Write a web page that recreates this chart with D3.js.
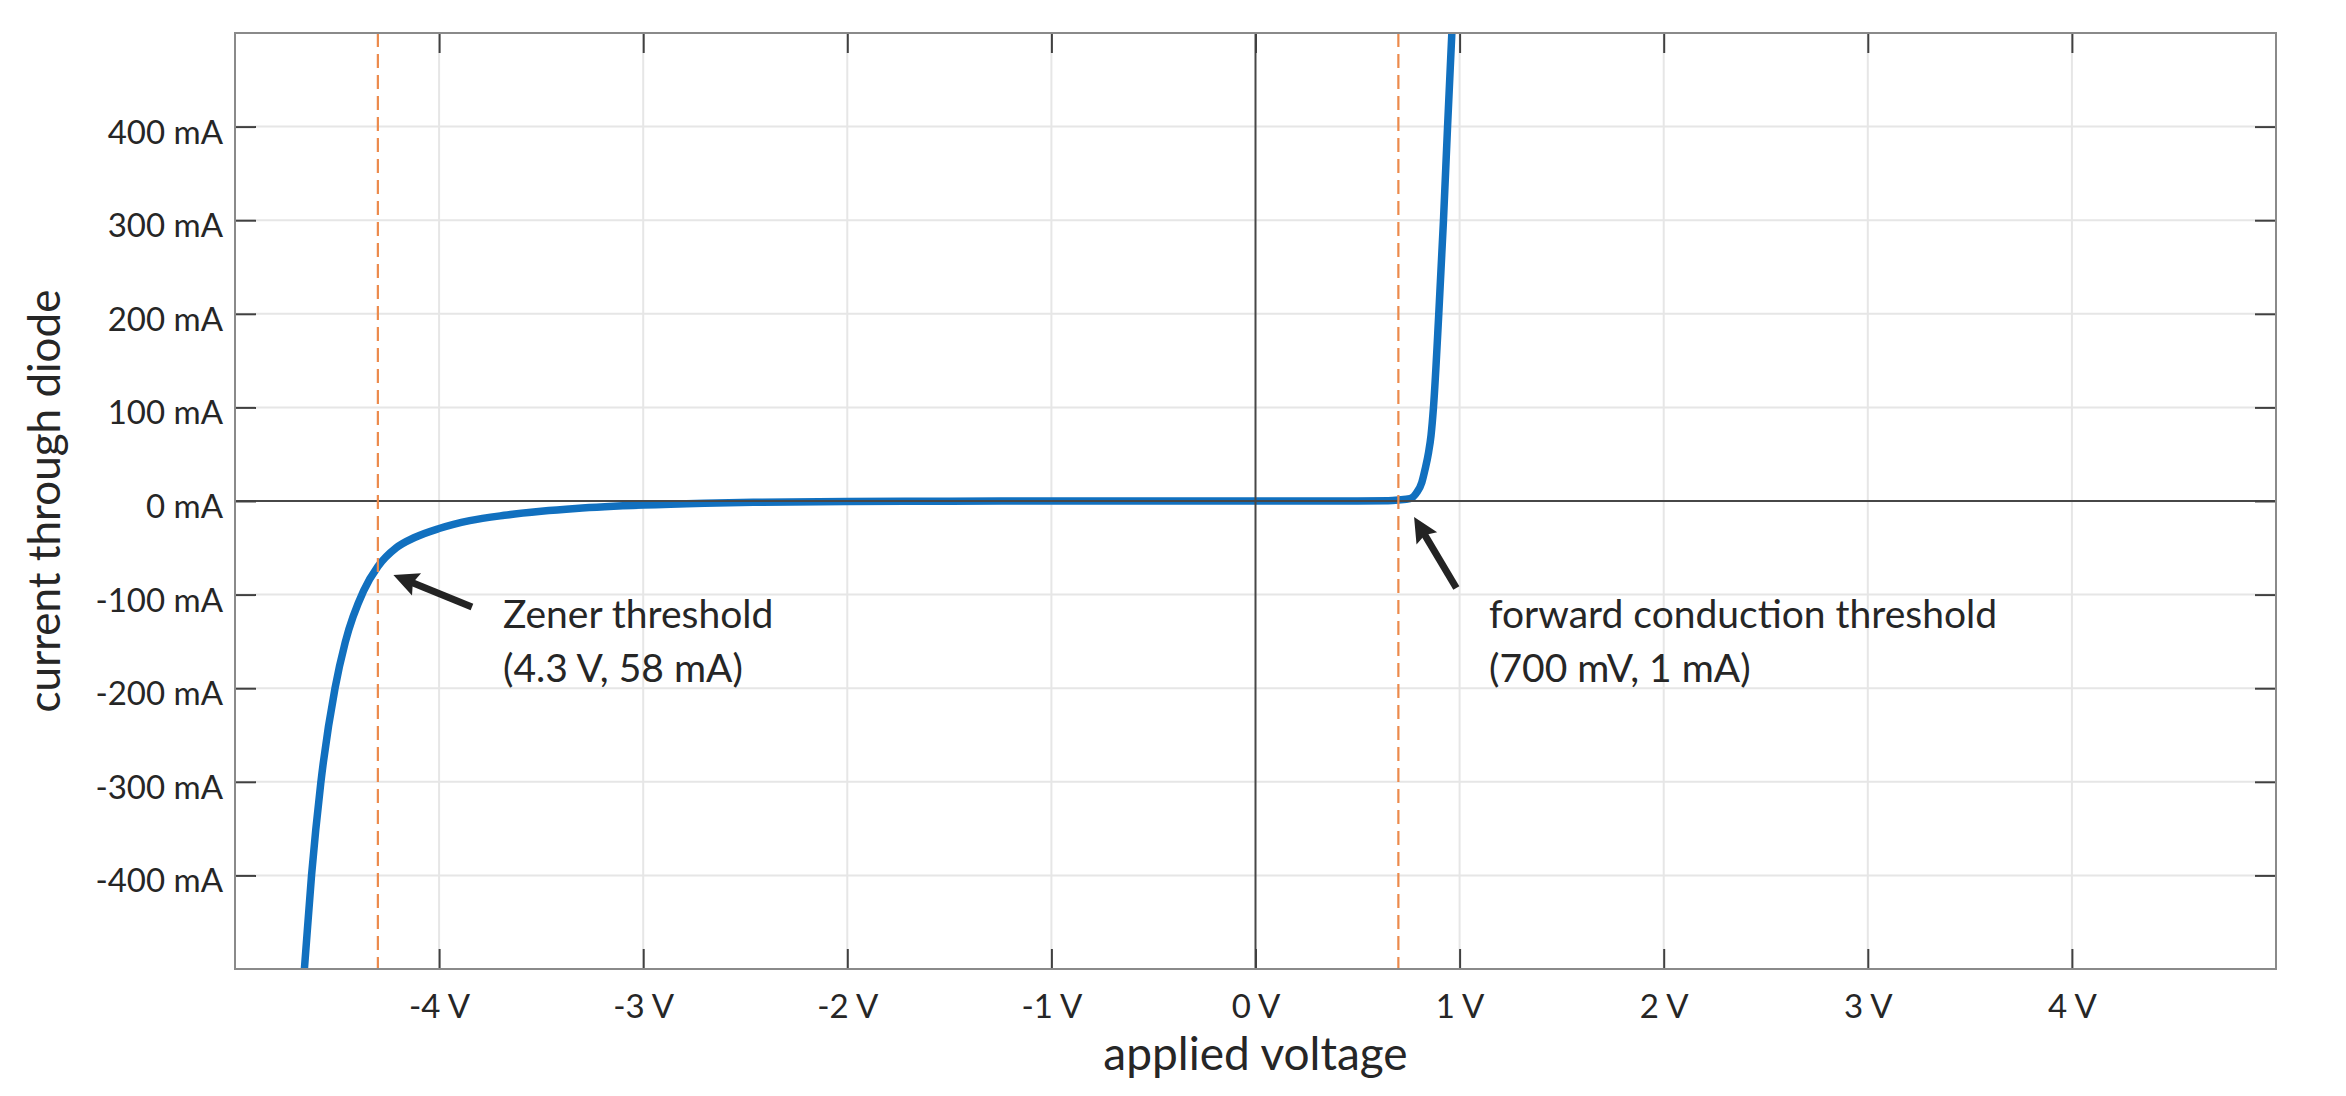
<!DOCTYPE html>
<html>
<head>
<meta charset="utf-8">
<script src="https://cdn.jsdelivr.net/npm/d3@7"></script>
<style>
  body { margin: 0; background: #fff; }
  svg { display: block; }
  text { font-family: Lato, "Noto Sans", sans-serif; fill: #262626; }
</style>
</head>
<body>
<svg id="chart" width="2346" height="1096"></svg>
<script>
// ---- data ----
const voltage = [-4.70, -4.66, -4.625, -4.58, -4.51, -4.46, -4.37, -4.30, -4.21, -4.12, -4.00, -3.85, -3.68, -3.50, -3.33, -3.00, -2.70, -2.46, -2.00, -1.50, -1.00, 0.00, 0.50, 0.65, 0.70, 0.757, 0.79, 0.815, 0.831, 0.848, 0.86, 0.872, 0.898, 0.921, 0.941, 0.962, 0.975];
const current = [-600, -500, -400, -302, -200, -151, -96, -70, -50, -39, -29.4, -21, -15.3, -11, -8, -4.3, -2.3, -1.3, -0.45, -0.15, -0.05, 0, 0.05, 0.3, 1, 2.5, 9, 20, 34, 52, 70, 100, 200, 300, 400, 500, 560];
const xTicks = [-4, -3, -2, -1, 0, 1, 2, 3, 4];
const yTicks = [-400, -300, -200, -100, 0, 100, 200, 300, 400];
const xDomain = [-5, 5];
const yDomain = [-500, 500];
const thresholdVoltages = [-4.3, 0.7];
const annotationLines = [["Zener threshold", "(4.3 V, 58 mA)"], ["forward conduction threshold", "(700 mV, 1 mA)"]];
const annotationAnchor = [[-3.687, -135.7], [1.144, -135.7]];
const arrowTail = [[-3.839, -113.2], [0.984, -93]];
const arrowTip = [[-4.224, -79], [0.777, -17]];
const xLabel = "applied voltage";
const yLabel = "current through diode";

// ---- layout ----
const W = 2346, H = 1096;
const m = { left: 235, right: 70, top: 33, bottom: 127 };
const pw = W - m.left - m.right, ph = H - m.top - m.bottom;

const svg = d3.select("#chart");
const x = d3.scaleLinear().domain(xDomain).range([m.left, m.left + pw]);
const y = d3.scaleLinear().domain(yDomain).range([m.top + ph, m.top]);

svg.append("defs").append("clipPath").attr("id", "plotclip")
  .append("rect").attr("x", m.left).attr("y", m.top).attr("width", pw).attr("height", ph);

// grid
const grid = svg.append("g");
grid.selectAll("line.gx").data(xTicks.filter(d => d !== 0)).join("line")
  .attr("class", "gx")
  .attr("x1", d => x(d)).attr("x2", d => x(d)).attr("y1", m.top).attr("y2", m.top + ph)
  .attr("stroke", "#e6e6e6").attr("stroke-width", 2);
grid.selectAll("line.gy").data(yTicks.filter(d => d !== 0)).join("line")
  .attr("class", "gy")
  .attr("y1", d => y(d)).attr("y2", d => y(d)).attr("x1", m.left).attr("x2", m.left + pw)
  .attr("stroke", "#e6e6e6").attr("stroke-width", 2);

// curve
const pts = voltage.map((v, i) => [v, current[i]]);
svg.append("path")
  .attr("clip-path", "url(#plotclip)")
  .attr("d", d3.line().x(d => x(d[0])).y(d => y(d[1])).curve(d3.curveMonotoneX)(pts))
  .attr("fill", "none").attr("stroke", "#1170bf").attr("stroke-width", 7.5)
  .attr("stroke-linejoin", "round");

// zero lines
svg.append("line").attr("x1", x(0)).attr("x2", x(0)).attr("y1", m.top).attr("y2", m.top + ph)
  .attr("stroke", "#474747").attr("stroke-width", 2);
svg.append("line").attr("y1", y(0)).attr("y2", y(0)).attr("x1", m.left).attr("x2", m.left + pw)
  .attr("stroke", "#474747").attr("stroke-width", 2);

// threshold dashed lines
svg.selectAll("line.th").data(thresholdVoltages).join("line").attr("class", "th")
  .attr("x1", d => x(d)).attr("x2", d => x(d)).attr("y1", m.top).attr("y2", m.top + ph)
  .attr("stroke", "#ec8a4c").attr("stroke-width", 2.2).attr("stroke-dasharray", "14,7");

// axes
function styleAxis(g) {
  g.select(".domain").remove();
  g.selectAll(".tick line").attr("stroke", "#404040").attr("stroke-width", 2);
  g.selectAll("text").style("font-size", "33px").attr("fill", "#262626");
}
const fmtX = d => `${d} V`, fmtY = d => `${d} mA`;
svg.append("g").attr("transform", `translate(0,${m.top + ph})`)
  .call(d3.axisBottom(x).tickValues(xTicks).tickFormat(fmtX).tickSize(-20).tickPadding(0))
  .call(styleAxis)
  .call(g => g.selectAll("text").attr("y", 49).attr("dy", null));
svg.append("g").attr("transform", `translate(0,${m.top})`)
  .call(d3.axisTop(x).tickValues(xTicks).tickFormat("").tickSize(-20))
  .call(styleAxis);
svg.append("g").attr("transform", `translate(${m.left},0)`)
  .call(d3.axisLeft(y).tickValues(yTicks).tickFormat(fmtY).tickSize(-21).tickPadding(12))
  .call(styleAxis)
  .call(g => g.selectAll("text").attr("dy", "0.5em"));
svg.append("g").attr("transform", `translate(${m.left + pw},0)`)
  .call(d3.axisRight(y).tickValues(yTicks).tickFormat("").tickSize(-21))
  .call(styleAxis);

// box
svg.append("rect").attr("x", m.left).attr("y", m.top).attr("width", pw).attr("height", ph)
  .attr("fill", "none").attr("stroke", "#8a8a8a").attr("stroke-width", 2);

// axis labels
svg.append("text").attr("x", m.left + pw / 2).attr("y", 1070).attr("text-anchor", "middle")
  .style("font-size", "46px").text(xLabel);
svg.append("text").attr("transform", `translate(60,${m.top + ph / 2}) rotate(-90)`)
  .attr("text-anchor", "middle").style("font-size", "44px").text(yLabel);

// arrows
arrowTail.forEach((t, i) => {
  const x0 = x(t[0]), y0 = y(t[1]), x1 = x(arrowTip[i][0]), y1 = y(arrowTip[i][1]);
  const ang = Math.atan2(y1 - y0, x1 - x0);
  const L = 25, Wh = 12, notch = 4;
  const ux = Math.cos(ang), uy = Math.sin(ang), nx = -uy, ny = ux;
  const bx = x1 - ux * L, by = y1 - uy * L;
  svg.append("line").attr("x1", x0).attr("y1", y0)
    .attr("x2", x1 - ux * (L - notch - 1)).attr("y2", y1 - uy * (L - notch - 1))
    .attr("stroke", "#232323").attr("stroke-width", 7);
  const head = [[x1, y1], [bx + nx * Wh, by + ny * Wh], [bx + ux * notch, by + uy * notch], [bx - nx * Wh, by - ny * Wh]];
  svg.append("polygon").attr("points", head.map(p => p.join(",")).join(" ")).attr("fill", "#232323");
});

// annotation text
annotationLines.forEach((lines, i) => {
  const t = svg.append("text").attr("x", x(annotationAnchor[i][0])).attr("y", y(annotationAnchor[i][1]))
    .style("font-size", "39px");
  lines.forEach((s, j) => t.append("tspan").attr("x", x(annotationAnchor[i][0])).attr("dy", j ? 54 : 0).text(s));
});
</script>
</body>
</html>
